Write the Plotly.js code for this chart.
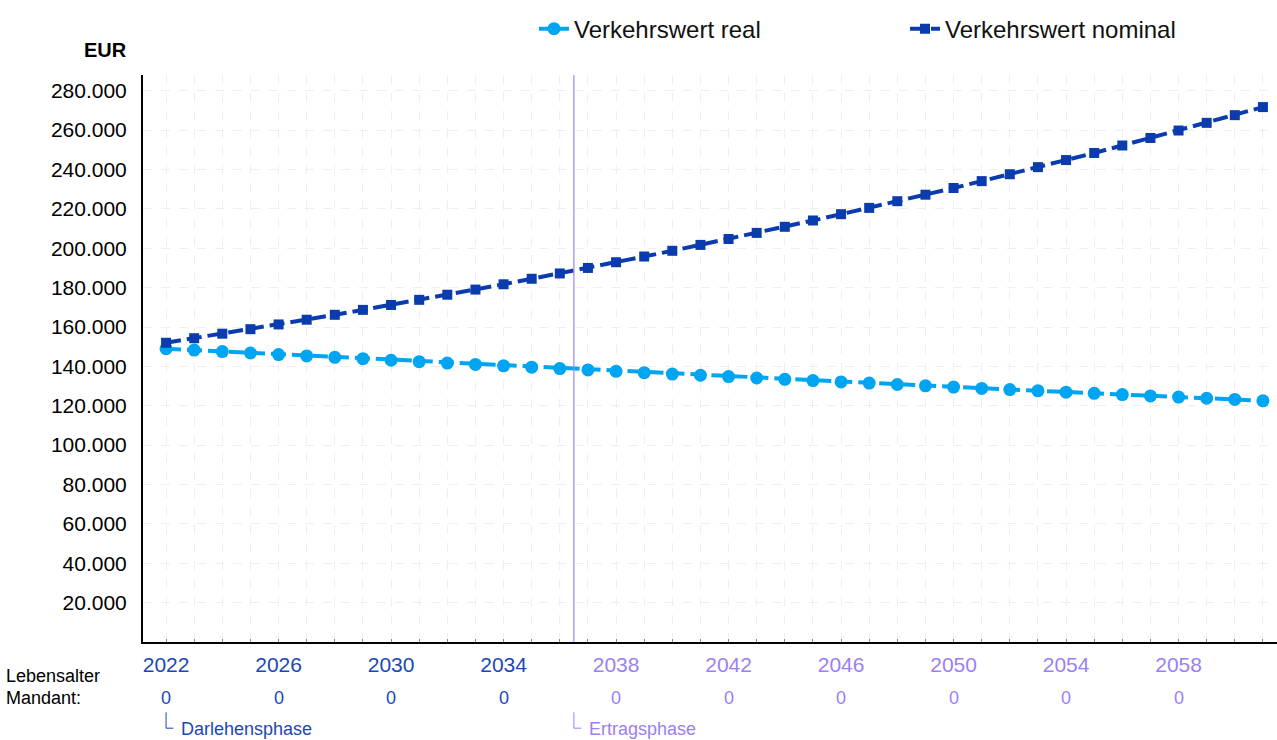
<!DOCTYPE html>
<html>
<head>
<meta charset="utf-8">
<script src="https://cdn.plot.ly/plotly-3.0.1.min.js"></script>
<style>html,body{margin:0;padding:0;background:#fff;}#chart{width:1277px;height:740px;}</style>
</head>
<body>
<div id="chart"></div>
<script>
const years = [2022,2023,2024,2025,2026,2027,2028,2029,2030,2031,2032,2033,2034,2035,2036,2037,2038,2039,2040,2041,2042,2043,2044,2045,2046,2047,2048,2049,2050,2051,2052,2053,2054,2055,2056,2057,2058,2059,2060,2061];
const wertReal = [149000,148300,147500,146800,146000,145300,144600,143900,143100,142400,141700,141000,140300,139600,138900,138200,137500,136800,136100,135500,134800,134100,133400,132800,132100,131500,130800,130100,129500,128800,128200,127600,126900,126300,125700,125000,124400,123800,123200,122500];
const wertNominal = [152000,154300,156600,158900,161300,163700,166200,168700,171200,173800,176400,179000,181700,184500,187200,190000,192900,195800,198700,201700,204700,207800,210900,214100,217300,220500,223900,227200,230600,234100,237600,241200,244800,248400,252200,256000,259800,263700,267600,271700];
const labelYears = [2022,2026,2030,2034,2038,2042,2046,2050,2054,2058];
const lebensalter = [0,0,0,0,0,0,0,0,0,0];
const yTicks = [20000,40000,60000,80000,100000,120000,140000,160000,180000,200000,220000,240000,260000,280000];
const phaseBoundary = 2036.5;
const phases = [{name:'Darlehensphase', start:2022, color:'#1a47b8'},{name:'Ertragsphase', start:2036.5, color:'#9b80f5'}];

const colorOf = y => (y < phaseBoundary ? phases[0].color : phases[1].color);

const traces = [
  {x: years, y: wertReal, name: 'Verkehrswert real', type: 'scatter', mode: 'lines+markers', legend: 'legend',
   line: {color: '#00a5f2', width: 4, dash: '15px,6px'}, marker: {symbol: 'circle', size: 13, color: '#00a5f2'}},
  {x: years, y: wertNominal, name: 'Verkehrswert nominal', type: 'scatter', mode: 'lines+markers', legend: 'legend2',
   line: {color: '#0a3cae', width: 4, dash: '15px,6px'}, marker: {symbol: 'square', size: 10, color: '#0a3cae'}}
];

const annotations = [
  {xref:'paper', yref:'paper', x:-0.0125, y:1.044, xanchor:'right', yanchor:'middle', text:'<b>EUR</b>', showarrow:false, font:{size:20, color:'#000'}},
  {xref:'paper', yref:'paper', x:-0.1226, y:-0.0608, xanchor:'left', yanchor:'middle', align:'left', text:'Lebensalter', showarrow:false, font:{size:18, color:'#000'}},
  {xref:'paper', yref:'paper', x:-0.1226, y:-0.0996, xanchor:'left', yanchor:'middle', align:'left', text:'Mandant:', showarrow:false, font:{size:18, color:'#000'}}
];
labelYears.forEach((yr, i) => {
  annotations.push({xref:'x', yref:'paper', x: yr, y: -0.0996, yanchor:'middle', xanchor:'center', text: String(lebensalter[i]), showarrow:false, font:{size:18, color: colorOf(yr)}});
});
const shapes = [
  {type:'line', xref:'x', yref:'paper', x0: phaseBoundary, x1: phaseBoundary, y0: 0, y1: 1, line:{color:'#9b86f0', width:1.2}}
];
phases.forEach(p => {
  shapes.push({type:'path', xref:'x', yref:'paper', path: `M ${p.start} -0.124 L ${p.start} -0.152 L ${p.start + 0.26} -0.152`, line:{color:p.color, width:1}});
  annotations.push({xref:'x', yref:'paper', x: p.start + 0.46, y: -0.154, xanchor:'left', yanchor:'middle', text: p.name, showarrow:false, font:{size:18, color:p.color}});
});

const legendBase = {orientation: 'h', y: 1.081, yanchor: 'middle', xanchor: 'left', font: {size: 24, color: '#111'}, itemwidth: 30, bgcolor: 'rgba(0,0,0,0)'};

const layout = {
  width: 1277, height: 740,
  margin: {l: 143, r: 0, t: 75, b: 98, pad: 0, autoexpand: false},
  paper_bgcolor: '#fff', plot_bgcolor: '#fff',
  separators: ',.',
  font: {family: 'Liberation Sans, Arial, sans-serif', color: '#000'},
  showlegend: true,
  legend: Object.assign({}, legendBase, {x: (534 - 143) / 1134}),
  legend2: Object.assign({}, legendBase, {x: (905 - 143) / 1134}),
  xaxis: {
    range: [2021.18, 2061.5], showline: true, linecolor: '#000', linewidth: 2,
    tickvals: labelYears, ticktext: labelYears.map(y => `<span style="color:${colorOf(y)}">${y}</span>`),
    ticks: 'outside', ticklen: 0, tickfont: {size: 21}, ticklabelstandoff: 3,
    showgrid: false, zeroline: false,
    minor: {dtick: 1, tick0: 2022, showgrid: true, gridcolor: '#efefef', griddash: 'dash', gridwidth: 1, ticks: 'inside', ticklen: 3, tickcolor: '#888'}
  },
  yaxis: {
    range: [0, 288000], showline: true, linecolor: '#000', linewidth: 2,
    tickvals: yTicks, tickformat: ',d', tickfont: {size: 21},
    showgrid: true, gridcolor: '#efefef', griddash: 'dash', gridwidth: 1, zeroline: false,
    ticks: '', ticklabelstandoff: 10
  },
  shapes: shapes,
  annotations: annotations
};

Plotly.newPlot('chart', traces, layout, {displayModeBar: false, staticPlot: true});
</script>
</body>
</html>
